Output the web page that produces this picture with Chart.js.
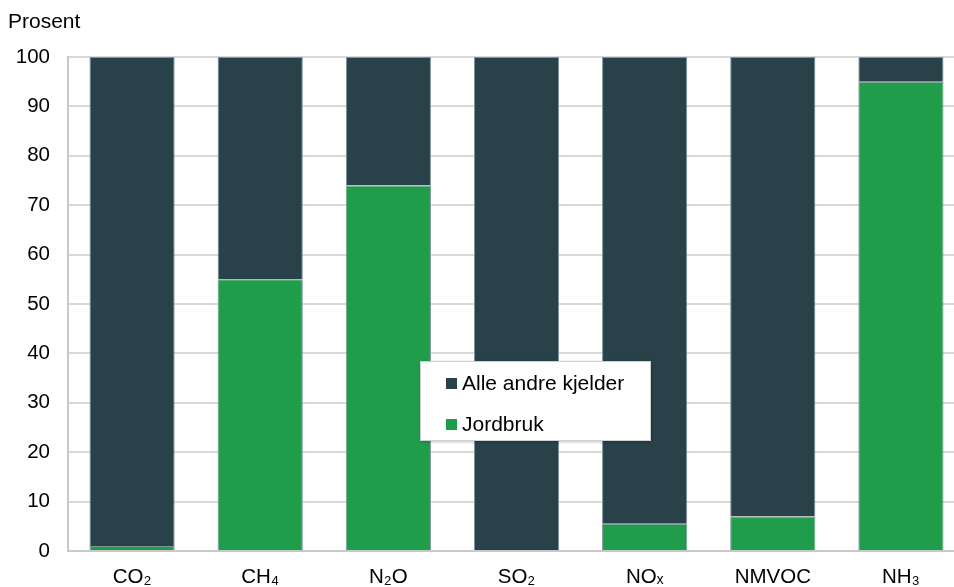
<!DOCTYPE html>
<html>
<head>
<meta charset="utf-8">
<script src="https://cdn.jsdelivr.net/npm/chart.js@4"></script>
<style>
  html, body { margin:0; padding:0; width:954px; height:587px; overflow:hidden; background:#fff; font-family:"Liberation Sans", Arial, sans-serif; }
  #wrap { position:absolute; left:0; top:0; width:970px; height:587px; }
  #ylab { position:absolute; left:8px; top:9px; font-size:21px; color:#000; }
  #legend { position:absolute; left:420px; top:361px; width:229px; height:78px; background:#fff; border:1px solid #d0d0d0; box-shadow:1px 1px 3px rgba(0,0,0,0.25); font-size:21px; color:#000; }
  .item { position:absolute; left:25px; display:flex; align-items:center; line-height:22px; }
  .sw { width:11px; height:11px; margin-right:5px; }
</style>
</head>
<body>
<div id="wrap"><canvas id="c" width="970" height="587"></canvas></div>
<div id="ylab">Prosent</div>
<div id="legend"></div>
<script>
const categories = ["CO\u2082", "CH\u2084", "N\u2082O", "SO\u2082", "NO\u2093", "NMVOC", "NH\u2083"];
const jordbruk = [1, 55, 74, 0, 5.5, 7, 95];
const andre = [99, 45, 26, 100, 94.5, 93, 5];
const seriesNames = ["Alle andre kjelder", "Jordbruk"];
const yTicks = [0, 10, 20, 30, 40, 50, 60, 70, 80, 90, 100];

const colDark = "#29424a";
const colGreen = "#1f9d4b";

const leg = document.getElementById("legend");
[[seriesNames[0], colDark, 10], [seriesNames[1], colGreen, 51]].forEach(([t, c, top]) => {
  const d = document.createElement("div");
  d.className = "item";
  d.style.top = top + "px";
  d.innerHTML = '<span class="sw" style="background:' + c + '"></span><span>' + t + '</span>';
  leg.appendChild(d);
});

new Chart(document.getElementById("c"), {
  type: "bar",
  data: {
    labels: categories,
    datasets: [
      { label: seriesNames[1], data: jordbruk, backgroundColor: colGreen, borderColor: "#7f9595", borderWidth: 1, stack: "s", categoryPercentage: 1, barPercentage: 0.665 },
      { label: seriesNames[0], data: andre, backgroundColor: colDark, borderColor: "#7f9595", borderWidth: 1, stack: "s", categoryPercentage: 1, barPercentage: 0.665 }
    ]
  },
  options: {
    responsive: false,
    animation: false,
    layout: { padding: { left: 0, right: 5, top: 57, bottom: 0 } },
    plugins: { legend: { display: false }, tooltip: { enabled: false } },
    scales: {
      x: {
        stacked: true,
        grid: { display: false, drawTicks: false },
        border: { display: true, color: "#c8c8c8", width: 2 },
        ticks: { color: "#000", font: { family: "Liberation Sans", size: 20.5 }, padding: 14, maxRotation: 0 },
        afterFit: s => { s.height = 36; }
      },
      y: {
        stacked: true,
        min: 0, max: 100,
        afterBuildTicks: s => { s.ticks = yTicks.map(v => ({ value: v })); },
        grid: { color: "#d9d9d9", lineWidth: 2, drawTicks: false },
        border: { display: true, color: "#c8c8c8", width: 2 },
        ticks: { color: "#000", font: { family: "Liberation Sans", size: 20.5 }, padding: 18 },
        afterFit: s => { s.width = 68; }
      }
    }
  }
});
</script>
</body>
</html>
